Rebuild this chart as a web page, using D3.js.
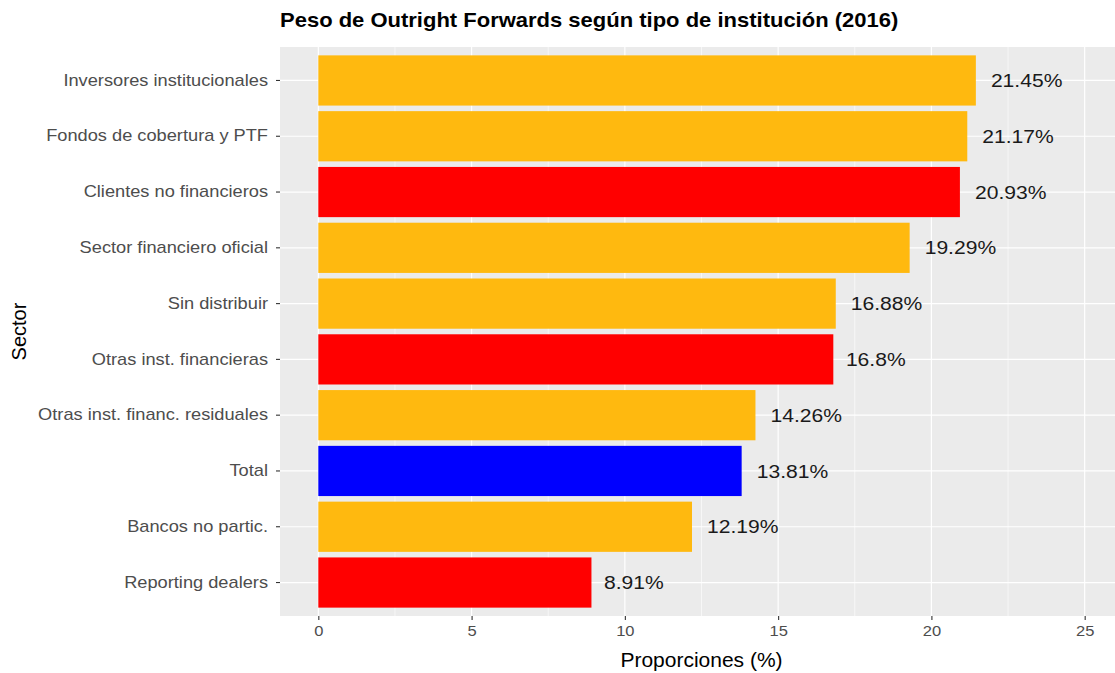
<!DOCTYPE html>
<html>
<head>
<meta charset="utf-8">
<script src="https://cdn.jsdelivr.net/npm/d3@7"></script>
<style>
  body { margin: 0; background: #fff; }
  svg { font-family: "Liberation Sans", Arial, sans-serif; display: block; }
</style>
</head>
<body>
<div id="chart"></div>
<script>
// data (top to bottom)
const sectors = [
  "Inversores institucionales",
  "Fondos de cobertura y PTF",
  "Clientes no financieros",
  "Sector financiero oficial",
  "Sin distribuir",
  "Otras inst. financieras",
  "Otras inst. financ. residuales",
  "Total",
  "Bancos no partic.",
  "Reporting dealers"
];
const values = [21.45, 21.17, 20.93, 19.29, 16.88, 16.8, 14.26, 13.81, 12.19, 8.91];
const groups = ["otro", "otro", "rojo", "otro", "otro", "rojo", "otro", "total", "otro", "rojo"];
const xTicks = [0, 5, 10, 15, 20, 25];

const width = 1115, height = 673;
const panel = { left: 280, right: 1123, top: 47, bottom: 616 };
// the reference text is a bit wide, stretch it horizontally
const stretch = 1.14;

const svg = d3.select("#chart").append("svg")
  .attr("width", width).attr("height", height);

const x = d3.scaleLinear()
  .domain([-1.25, 26.25])
  .range([panel.left, panel.right]);

// ggplot-like: bar width 0.9, 0.6 expansion on each side
const y = d3.scaleBand()
  .domain(sectors)
  .range([panel.top, panel.bottom])
  .paddingInner(0.1)
  .paddingOuter(0.15);

const color = d3.scaleOrdinal()
  .domain(["otro", "rojo", "total"])
  .range(["#FFB90F", "#FF0000", "#0000FF"]);

// panel background
svg.append("rect")
  .attr("x", panel.left).attr("y", panel.top)
  .attr("width", panel.right - panel.left)
  .attr("height", panel.bottom - panel.top)
  .attr("fill", "#EBEBEB");

// minor grid
const minor = d3.range(2.5, 26, 5);
svg.append("g").selectAll("line").data(minor).join("line")
  .attr("x1", d => x(d)).attr("x2", d => x(d))
  .attr("y1", panel.top).attr("y2", panel.bottom)
  .attr("stroke", "#fff").attr("stroke-width", 0.6);

// major grid
svg.append("g").selectAll("line").data(xTicks).join("line")
  .attr("x1", d => x(d)).attr("x2", d => x(d))
  .attr("y1", panel.top).attr("y2", panel.bottom)
  .attr("stroke", "#fff").attr("stroke-width", 1.2);

svg.append("g").selectAll("line").data(sectors).join("line")
  .attr("x1", panel.left).attr("x2", panel.right)
  .attr("y1", d => y(d) + y.bandwidth() / 2)
  .attr("y2", d => y(d) + y.bandwidth() / 2)
  .attr("stroke", "#fff").attr("stroke-width", 1.2);

// bars
svg.append("g").selectAll("rect").data(sectors).join("rect")
  .attr("x", x(0))
  .attr("y", d => y(d))
  .attr("width", (d, i) => x(values[i]) - x(0))
  .attr("height", y.bandwidth())
  .attr("fill", (d, i) => color(groups[i]));

// value labels (hjust about -0.2)
svg.append("g").selectAll("text").data(sectors).join("text")
  .attr("dy", "0.36em")
  .attr("font-size", 18.5)
  .attr("fill", "#1a1a1a")
  .text((d, i) => values[i] + "%")
  .attr("transform", function(d, i) {
    const w = this.getComputedTextLength() * stretch;
    return `translate(${x(values[i]) + 0.21 * w},${y(d) + y.bandwidth() / 2}) scale(${stretch},1)`;
  });

// y axis
const yAxis = svg.append("g")
  .attr("transform", `translate(${panel.left},0)`)
  .call(d3.axisLeft(y).tickSize(4).tickPadding(7));
yAxis.select(".domain").remove();
yAxis.selectAll(".tick line").attr("stroke", "#333").attr("stroke-width", 1.1);
yAxis.selectAll(".tick text")
  .attr("font-size", 16).attr("fill", "#4D4D4D")
  .attr("font-family", "Liberation Sans, Arial, sans-serif")
  .attr("x", -12 / stretch)
  .attr("transform", `scale(${stretch},1)`);

// x axis
const xAxis = svg.append("g")
  .attr("transform", `translate(0,${panel.bottom})`)
  .call(d3.axisBottom(x).tickValues(xTicks).tickSize(4).tickPadding(6));
xAxis.select(".domain").remove();
xAxis.selectAll(".tick line").attr("stroke", "#333").attr("stroke-width", 1.1);
xAxis.selectAll(".tick text")
  .attr("font-size", 14.5).attr("fill", "#4D4D4D")
  .attr("font-family", "Liberation Sans, Arial, sans-serif")
  .attr("transform", `scale(${stretch},1)`);

// axis titles
svg.append("text")
  .attr("x", (panel.left + panel.right) / 2)
  .attr("y", 667)
  .attr("text-anchor", "middle")
  .attr("font-size", 21)
  .attr("fill", "#000")
  .text("Proporciones (%)");

svg.append("text")
  .attr("transform", `translate(26,${(panel.top + panel.bottom) / 2}) rotate(-90)`)
  .attr("text-anchor", "middle")
  .attr("font-size", 20)
  .attr("fill", "#000")
  .text("Sector");

// title
svg.append("text")
  .attr("transform", `translate(${panel.left},27) scale(1.1,1)`)
  .attr("font-size", 20)
  .attr("font-weight", "bold")
  .attr("fill", "#000")
  .text("Peso de Outright Forwards según tipo de institución (2016)");
</script>
</body>
</html>
